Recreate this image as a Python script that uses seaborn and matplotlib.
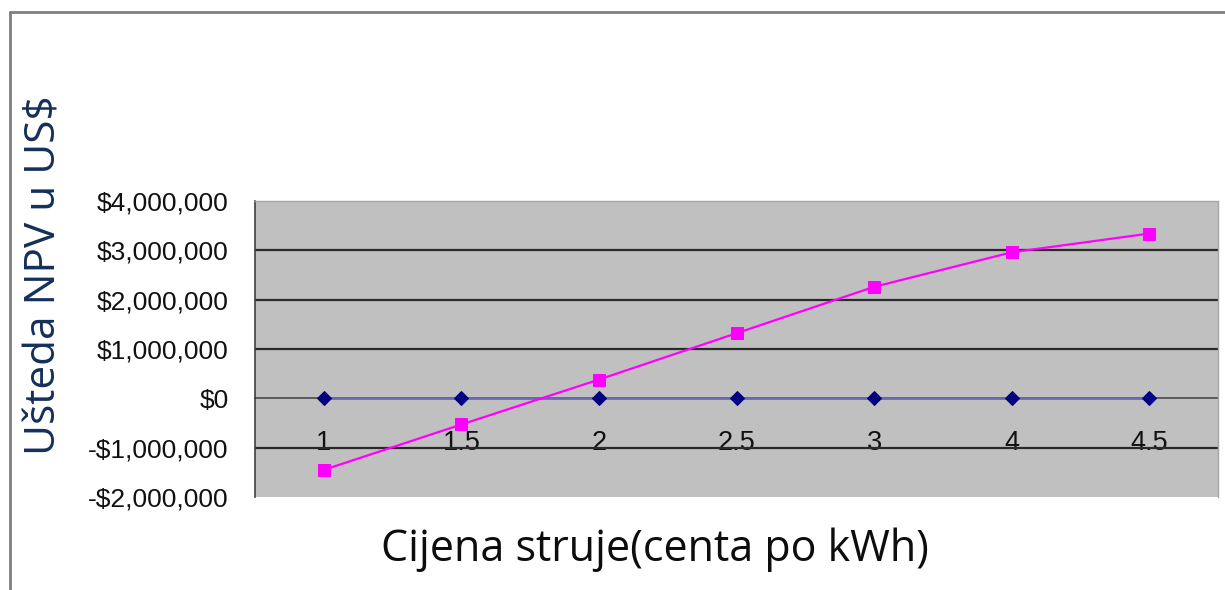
import numpy as np
import pandas as pd
import seaborn as sns
from matplotlib import pyplot as plt
from matplotlib.lines import Line2D
from matplotlib.ticker import FuncFormatter

# data
prices = ['1', '1.5', '2', '2.5', '3', '4', '4.5']
base_npv = [0, 0, 0, 0, 0, 0, 0]
savings_npv = [-1450000, -530000, 380000, 1320000, 2260000, 2960000, 3340000]
y_ticks = [-2000000, -1000000, 0, 1000000, 2000000, 3000000, 4000000]

sns.set_style('white')
plt.rcParams['font.family'] = ['Liberation Sans', 'DejaVu Sans']

df = pd.DataFrame({'pos': np.arange(len(prices)), 'base': base_npv, 'savings': savings_npv})

fig = plt.figure(figsize=(12.25, 5.9), dpi=100)
ax = fig.add_axes([0.2082, 0.1576, 0.7861, 0.5017])
ax.set_facecolor('#c0c0c0')

# outer chart frame (only left and top visible)
fig.add_artist(Line2D([10/1225, 10/1225], [0, 1 - 12/590], color='#7f7f7f', lw=2, transform=fig.transFigure))
fig.add_artist(Line2D([10/1225, 1], [1 - 12/590, 1 - 12/590], color='#7f7f7f', lw=2, transform=fig.transFigure))

for v in y_ticks:
    if v not in (0, 4000000, -2000000):
        ax.axhline(v, color='#2a2a2a', lw=1.6, zorder=1)

sns.lineplot(data=df, x='pos', y='base', ax=ax, color='#6a6ab4', lw=2, marker='D',
             markersize=7, markerfacecolor='#000080', markeredgecolor='#000080', zorder=4)
sns.lineplot(data=df, x='pos', y='savings', ax=ax, color='#ff00ff', lw=1.6, marker='s',
             markersize=9, markerfacecolor='#ff00ff', markeredgecolor='#ff00ff', zorder=5)

ax.set_xlim(-0.5, len(prices) - 0.5)
ax.set_ylim(-2000000, 4000000)

for s in ['top', 'right']:
    ax.spines[s].set_color('#a6a6a6')
    ax.spines[s].set_linewidth(1)
ax.spines['left'].set_color('#404040')
ax.spines['left'].set_linewidth(1.2)
ax.spines['bottom'].set_position(('data', 0))
ax.spines['bottom'].set_color('#5a5a5a')
ax.spines['bottom'].set_linewidth(1.4)
ax.spines['bottom'].set_zorder(2)

ax.set_yticks(y_ticks)
ax.yaxis.set_major_formatter(FuncFormatter(lambda v, p: ('-$' if v < 0 else '$') + f'{abs(v):,.0f}'))
ax.tick_params(axis='y', which='major', direction='out', length=8, width=1.2, color='#404040',
               pad=11, labelsize=19, labelcolor='#111111')

# category labels between boundary ticks
ax.set_xticks(np.arange(-0.5, len(prices)), labels=[''] * (len(prices) + 1))
ax.set_xticks(df['pos'], labels=prices, minor=True)
ax.tick_params(axis='x', which='major', direction='out', length=5, width=1, color='#404040')
ax.tick_params(axis='x', which='minor', length=0, pad=23, labelsize=19.5, labelcolor='#111111')

ax.set_xlabel('')
ax.set_ylabel('')
fig.text(655/1225, 1 - 550/590, 'Cijena struje(centa po kWh)', ha='center', va='center',
         fontsize=31, family=['Open Sans', 'DejaVu Sans'], color='#0d0d0d')
fig.text(45/1225, 1 - 275/590, 'Ušteda NPV u US$', ha='center', va='center', rotation=90,
         fontsize=30.5, family=['Open Sans', 'DejaVu Sans'], color='#14305a')

fig.savefig('out.png', dpi=100)
